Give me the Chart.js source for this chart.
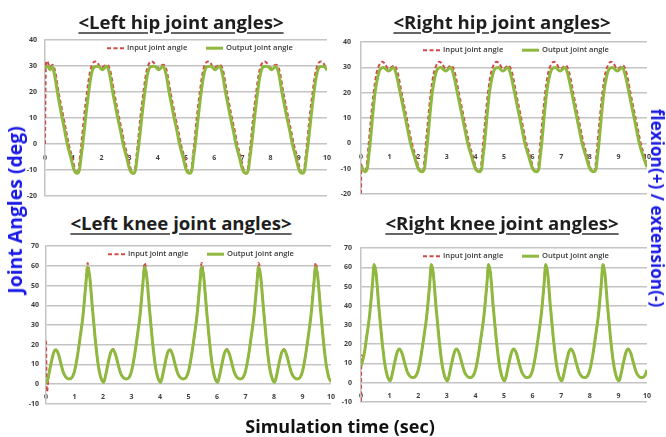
<!DOCTYPE html>
<html lang="en">
<head>
<meta charset="UTF-8" />
<title>Joint angles</title>
<script src="https://cdn.jsdelivr.net/npm/chart.js"></script>
<style>
  body { margin: 0; background: #fff; }
  #wrap { position: relative; width: 666px; height: 437px; overflow: hidden; font-family: 'Open Sans', sans-serif; }
  canvas { position: absolute; }
  .title { position: absolute; font-weight: 700; font-size: 18.6px; line-height: 20px; color: #1e1e1e; white-space: nowrap;
           transform: translateX(-50%); text-decoration: underline; text-decoration-thickness: 1.5px; text-underline-offset: 3px; text-decoration-color: #666; z-index: 2; }
  .axis { position: absolute; font-weight: 700; line-height: 20px; white-space: nowrap; z-index: 2; }
</style>
</head>
<body>
<div id="wrap">
  <div class="title" style="left:181px; top:12px;">&lt;Left hip joint angles&gt;</div>
  <div class="title" style="left:502px; top:12px;">&lt;Right hip joint angles&gt;</div>
  <div class="title" style="left:181px; top:213px;">&lt;Left knee joint angles&gt;</div>
  <div class="title" style="left:502px; top:213px;">&lt;Right knee joint angles&gt;</div>

  <canvas id="lhip" width="333" height="180" style="left:0; top:28px;"></canvas>
  <canvas id="rhip" width="333" height="180" style="left:333px; top:28px;"></canvas>
  <canvas id="lknee" width="336" height="180" style="left:0; top:235px;"></canvas>
  <canvas id="rknee" width="333" height="180" style="left:333px; top:235px;"></canvas>

  <div class="axis" style="left:15px; top:210px; font-size:19.4px; color:#1a1ae6; transform:translate(-50%,-50%) rotate(-90deg);">Joint Angles (deg)</div>
  <div class="axis" style="left:657px; top:208px; font-size:17.2px; color:#1a1ae6; transform:translate(-50%,-50%) rotate(90deg);">flexion(+) / extension(-)</div>
  <div class="axis" style="left:340px; top:426px; font-size:18px; color:#111; transform:translate(-50%,-50%);">Simulation time (sec)</div>
</div>

<script>
  // ---- datos (tiempo en s, angulo en grados) ----
  const xTicks = [0, 10];          // rango del eje de tiempo
  const hipRange = [-20, 40];
  const kneeRange = [-10, 70];

  const lHipOutT = [0, 0.1, 0.18, 0.26, 0.35, 0.44, 0.52, 0.61, 0.70, 0.79, 0.91, 1.03, 1.14, 1.22, 1.28, 1.34, 1.44, 1.55, 1.63, 1.70, 1.77,
    1.88, 2.04, 2.19, 2.30, 2.40, 2.49, 2.58, 2.68, 2.77, 2.89, 3.01, 3.13, 3.21, 3.27, 3.33, 3.43, 3.54, 3.62, 3.69, 3.76,
    3.88, 4.04, 4.19, 4.30, 4.40, 4.49, 4.58, 4.68, 4.77, 4.89, 5.01, 5.13, 5.21, 5.27, 5.33, 5.43, 5.54, 5.62, 5.69, 5.76,
    5.88, 6.04, 6.19, 6.30, 6.40, 6.49, 6.58, 6.68, 6.77, 6.89, 7.01, 7.13, 7.21, 7.27, 7.33, 7.43, 7.54, 7.62, 7.69, 7.76,
    7.88, 8.04, 8.19, 8.30, 8.40, 8.49, 8.58, 8.68, 8.77, 8.89, 9.01, 9.13, 9.21, 9.27, 9.33, 9.43, 9.54, 9.62, 9.69, 9.76,
    9.88, 10.0];
  const lHipOutV = [29.3, 30, 28.6, 29.8, 26, 20, 15, 10, 5, 0, -5, -10, -11.3, -10, -5, 0, 10, 20, 26, 29, 29.8,
    30, 28.6, 30, 26.5, 20, 15, 10, 5, 0, -5, -10, -11.3, -10, -5, 0, 10, 20, 26, 29, 29.8,
    30, 28.6, 30, 26.5, 20, 15, 10, 5, 0, -5, -10, -11.3, -10, -5, 0, 10, 20, 26, 29, 29.8,
    30, 28.6, 30, 26.5, 20, 15, 10, 5, 0, -5, -10, -11.3, -10, -5, 0, 10, 20, 26, 29, 29.8,
    30, 28.6, 30, 26.5, 20, 15, 10, 5, 0, -5, -10, -11.3, -10, -5, 0, 10, 20, 26, 29, 29.8,
    30, 28.4];

  const lHipInT = [0, 0.03, 0.06, 0.1, 0.17, 0.27, 0.37, 0.48, 0.57, 0.66, 0.75, 0.84, 0.96, 1.07, 1.15, 1.19, 1.24, 1.29, 1.38, 1.49, 1.59, 1.69,
    1.79, 1.87, 1.97, 2.2, 2.31, 2.45, 2.54, 2.63, 2.73, 2.82, 2.94, 3.05, 3.14, 3.19, 3.24, 3.29, 3.38, 3.49, 3.59, 3.69,
    3.79, 3.87, 3.97, 4.2, 4.31, 4.45, 4.54, 4.63, 4.73, 4.82, 4.94, 5.05, 5.14, 5.19, 5.24, 5.29, 5.38, 5.49, 5.59, 5.69,
    5.79, 5.87, 5.97, 6.2, 6.31, 6.45, 6.54, 6.63, 6.73, 6.82, 6.94, 7.05, 7.14, 7.19, 7.24, 7.29, 7.38, 7.49, 7.59, 7.69,
    7.79, 7.87, 7.97, 8.2, 8.31, 8.45, 8.54, 8.63, 8.73, 8.82, 8.94, 9.05, 9.14, 9.19, 9.24, 9.29, 9.38, 9.49, 9.59, 9.69,
    9.79, 9.87, 9.97, 10.0];
  const lHipInV = [0, 30, 32, 31.5, 29.5, 30.5, 27.5, 20, 15, 10, 5, 0, -5, -10, -11.5, -10, -5, 0, 10, 20, 27.5, 31,
    31.8, 31.2, 29.4, 30.5, 28.5, 20, 15, 10, 5, 0, -5, -10, -11.5, -10, -5, 0, 10, 20, 27.5, 31,
    31.8, 31.2, 29.4, 30.5, 28.5, 20, 15, 10, 5, 0, -5, -10, -11.5, -10, -5, 0, 10, 20, 27.5, 31,
    31.8, 31.2, 29.4, 30.5, 28.5, 20, 15, 10, 5, 0, -5, -10, -11.5, -10, -5, 0, 10, 20, 27.5, 31,
    31.8, 31.2, 29.4, 30.5, 28.5, 20, 15, 10, 5, 0, -5, -10, -11.5, -10, -5, 0, 10, 20, 27.5, 31,
    31.8, 31.2, 29.4, 29.6];

  const rHipOutT = [0, 0.07,
    0.14, 0.22, 0.27, 0.32, 0.40, 0.49, 0.58, 0.67, 0.79, 0.96, 1.14, 1.25, 1.37, 1.46, 1.55, 1.64, 1.73, 1.86, 2.0,
    2.14, 2.22, 2.27, 2.32, 2.40, 2.49, 2.58, 2.67, 2.79, 2.96, 3.14, 3.25, 3.37, 3.46, 3.55, 3.64, 3.73, 3.86, 4.0,
    4.14, 4.22, 4.27, 4.32, 4.40, 4.49, 4.58, 4.67, 4.79, 4.96, 5.14, 5.25, 5.37, 5.46, 5.55, 5.64, 5.73, 5.86, 6.0,
    6.14, 6.22, 6.27, 6.32, 6.40, 6.49, 6.58, 6.67, 6.79, 6.96, 7.14, 7.25, 7.37, 7.46, 7.55, 7.64, 7.73, 7.86, 8.0,
    8.14, 8.22, 8.27, 8.32, 8.40, 8.49, 8.58, 8.67, 8.79, 8.96, 9.14, 9.25, 9.37, 9.46, 9.55, 9.64, 9.73, 9.86, 10.0];
  const rHipOutV = [-8.8, -10.6,
    -11.3, -10, -5, 0, 10, 20, 26, 29.3, 30, 28.6, 30, 26.5, 20, 15, 10, 5, 0, -5, -10,
    -11.3, -10, -5, 0, 10, 20, 26, 29.3, 30, 28.6, 30, 26.5, 20, 15, 10, 5, 0, -5, -10,
    -11.3, -10, -5, 0, 10, 20, 26, 29.3, 30, 28.6, 30, 26.5, 20, 15, 10, 5, 0, -5, -10,
    -11.3, -10, -5, 0, 10, 20, 26, 29.3, 30, 28.6, 30, 26.5, 20, 15, 10, 5, 0, -5, -10,
    -11.3, -10, -5, 0, 10, 20, 26, 29.3, 30, 28.6, 30, 26.5, 20, 15, 10, 5, 0, -5, -9.5];

  const rHipInT = [0, 0.01, 0.06,
    0.13, 0.19, 0.23, 0.27, 0.35, 0.44, 0.54, 0.64, 0.74, 0.83, 0.96, 1.16, 1.28, 1.42, 1.51, 1.60, 1.69, 1.78, 1.91, 2.03,
    2.13, 2.19, 2.23, 2.27, 2.35, 2.44, 2.54, 2.64, 2.74, 2.83, 2.96, 3.16, 3.28, 3.42, 3.51, 3.60, 3.69, 3.78, 3.91, 4.03,
    4.13, 4.19, 4.23, 4.27, 4.35, 4.44, 4.54, 4.64, 4.74, 4.83, 4.96, 5.16, 5.28, 5.42, 5.51, 5.60, 5.69, 5.78, 5.91, 6.03,
    6.13, 6.19, 6.23, 6.27, 6.35, 6.44, 6.54, 6.64, 6.74, 6.83, 6.96, 7.16, 7.28, 7.42, 7.51, 7.60, 7.69, 7.78, 7.91, 8.03,
    8.13, 8.19, 8.23, 8.27, 8.35, 8.44, 8.54, 8.64, 8.74, 8.83, 8.96, 9.16, 9.28, 9.42, 9.51, 9.60, 9.69, 9.78, 9.91, 10.0];
  const rHipInV = [-20, -8, -10,
    -10.8, -10, -5, 0, 10, 20, 27.5, 31, 32.3, 31.6, 29.4, 30.8, 28, 20, 15, 10, 5, 0, -5, -10,
    -11.3, -10, -5, 0, 10, 20, 27.5, 31, 32.3, 31.6, 29.4, 30.8, 28, 20, 15, 10, 5, 0, -5, -10,
    -11.3, -10, -5, 0, 10, 20, 27.5, 31, 32.3, 31.6, 29.4, 30.8, 28, 20, 15, 10, 5, 0, -5, -10,
    -11.3, -10, -5, 0, 10, 20, 27.5, 31, 32.3, 31.6, 29.4, 30.8, 28, 20, 15, 10, 5, 0, -5, -10,
    -11.3, -10, -5, 0, 10, 20, 27.5, 31, 32.3, 31.6, 29.4, 30.8, 28, 20, 15, 10, 5, 0, -5, -9];

  const lKneeT = [0, 0.03,
    0.1, 0.17, 0.27, 0.35, 0.44, 0.53, 0.62, 0.72, 0.82, 0.92, 1.0, 1.1, 1.2, 1.3, 1.4, 1.46, 1.53, 1.62, 1.72, 1.82, 1.92, 2.02,
    2.1, 2.17, 2.27, 2.35, 2.44, 2.53, 2.62, 2.72, 2.82, 2.92, 3.0, 3.1, 3.2, 3.3, 3.4, 3.46, 3.53, 3.62, 3.72, 3.82, 3.92, 4.02,
    4.1, 4.17, 4.27, 4.35, 4.44, 4.53, 4.62, 4.72, 4.82, 4.92, 5.0, 5.1, 5.2, 5.3, 5.4, 5.46, 5.53, 5.62, 5.72, 5.82, 5.92, 6.02,
    6.1, 6.17, 6.27, 6.35, 6.44, 6.53, 6.62, 6.72, 6.82, 6.92, 7.0, 7.1, 7.2, 7.3, 7.4, 7.46, 7.53, 7.62, 7.72, 7.82, 7.92, 8.02,
    8.1, 8.17, 8.27, 8.35, 8.44, 8.53, 8.62, 8.72, 8.82, 8.92, 9.0, 9.1, 9.2, 9.3, 9.4, 9.46, 9.53, 9.62, 9.72, 9.82, 9.92, 10.0];
  const lKneeOut = [1.5, 0.9,
    5, 10, 16, 17.5, 15, 10, 5.5, 3.2, 2.6, 3.5, 6.5, 14, 24, 35, 51, 59.5, 55, 40, 24, 11, 3.5, 0.9,
    5, 10, 16, 17.5, 15, 10, 5.5, 3.2, 2.6, 3.5, 6.5, 14, 24, 35, 51, 59.5, 55, 40, 24, 11, 3.5, 0.9,
    5, 10, 16, 17.5, 15, 10, 5.5, 3.2, 2.6, 3.5, 6.5, 14, 24, 35, 51, 59.5, 55, 40, 24, 11, 3.5, 0.9,
    5, 10, 16, 17.5, 15, 10, 5.5, 3.2, 2.6, 3.5, 6.5, 14, 24, 35, 51, 59.5, 55, 40, 24, 11, 3.5, 0.9,
    5, 10, 16, 17.5, 15, 10, 5.5, 3.2, 2.6, 3.5, 6.5, 14, 24, 35, 51, 59.5, 55, 40, 24, 11, 3.5, 1.2];
  const lKneeIn = [22, -4,
    5, 10, 16, 17.8, 15, 10, 5.5, 3.2, 2.6, 3.5, 6.5, 14, 24, 35.5, 52, 61.5, 55.5, 40.5, 24, 11, 3.5, 0.9,
    5, 10, 16, 17.8, 15, 10, 5.5, 3.2, 2.6, 3.5, 6.5, 14, 24, 35.5, 52, 61.5, 55.5, 40.5, 24, 11, 3.5, 0.9,
    5, 10, 16, 17.8, 15, 10, 5.5, 3.2, 2.6, 3.5, 6.5, 14, 24, 35.5, 52, 61.5, 55.5, 40.5, 24, 11, 3.5, 0.9,
    5, 10, 16, 17.8, 15, 10, 5.5, 3.2, 2.6, 3.5, 6.5, 14, 24, 35.5, 52, 61.5, 55.5, 40.5, 24, 11, 3.5, 0.9,
    5, 10, 16, 17.8, 15, 10, 5.5, 3.2, 2.6, 3.5, 6.5, 14, 24, 35.5, 52, 61.5, 55.5, 40.5, 24, 11, 3.5, 1.2];

  const rKneeT = [0, 0.01,
    0.1, 0.2, 0.3, 0.4, 0.46, 0.53, 0.62, 0.72, 0.82, 0.92, 1.02, 1.1, 1.17, 1.27, 1.34, 1.44, 1.53, 1.62, 1.72, 1.82, 1.92, 2.0,
    2.1, 2.2, 2.3, 2.4, 2.46, 2.53, 2.62, 2.72, 2.82, 2.92, 3.02, 3.1, 3.17, 3.27, 3.34, 3.44, 3.53, 3.62, 3.72, 3.82, 3.92, 4.0,
    4.1, 4.2, 4.3, 4.4, 4.46, 4.53, 4.62, 4.72, 4.82, 4.92, 5.02, 5.1, 5.17, 5.27, 5.34, 5.44, 5.53, 5.62, 5.72, 5.82, 5.92, 6.0,
    6.1, 6.2, 6.3, 6.4, 6.46, 6.53, 6.62, 6.72, 6.82, 6.92, 7.02, 7.1, 7.17, 7.27, 7.34, 7.44, 7.53, 7.62, 7.72, 7.82, 7.92, 8.0,
    8.1, 8.2, 8.3, 8.4, 8.46, 8.53, 8.62, 8.72, 8.82, 8.92, 9.02, 9.1, 9.17, 9.27, 9.34, 9.44, 9.53, 9.62, 9.72, 9.82, 9.92, 10.0];
  const rKneeOut = [8.5, 9,
    14, 24, 35, 51, 61.5, 56.5, 40, 24, 11, 3.5, 0.9, 5, 10, 16, 17.5, 15, 10, 5.5, 3.2, 2.6, 3.5, 6.5,
    14, 24, 35, 51, 61.5, 56.5, 40, 24, 11, 3.5, 0.9, 5, 10, 16, 17.5, 15, 10, 5.5, 3.2, 2.6, 3.5, 6.5,
    14, 24, 35, 51, 61.5, 56.5, 40, 24, 11, 3.5, 0.9, 5, 10, 16, 17.5, 15, 10, 5.5, 3.2, 2.6, 3.5, 6.5,
    14, 24, 35, 51, 61.5, 56.5, 40, 24, 11, 3.5, 0.9, 5, 10, 16, 17.5, 15, 10, 5.5, 3.2, 2.6, 3.5, 6.5,
    14, 24, 35, 51, 61.5, 56.5, 40, 24, 11, 3.5, 0.9, 5, 10, 16, 17.5, 15, 10, 5.5, 3.2, 2.6, 3.5, 6.5];
  const rKneeIn = [-10, 14,
    14, 24, 35, 51, 61.5, 56.5, 40, 24, 11, 3.5, 0.9, 5, 10, 16, 17.5, 15, 10, 5.5, 3.2, 2.6, 3.5, 6.5,
    14, 24, 35, 51, 61.5, 56.5, 40, 24, 11, 3.5, 0.9, 5, 10, 16, 17.5, 15, 10, 5.5, 3.2, 2.6, 3.5, 6.5,
    14, 24, 35, 51, 61.5, 56.5, 40, 24, 11, 3.5, 0.9, 5, 10, 16, 17.5, 15, 10, 5.5, 3.2, 2.6, 3.5, 6.5,
    14, 24, 35, 51, 61.5, 56.5, 40, 24, 11, 3.5, 0.9, 5, 10, 16, 17.5, 15, 10, 5.5, 3.2, 2.6, 3.5, 6.5,
    14, 24, 35, 51, 61.5, 56.5, 40, 24, 11, 3.5, 0.9, 5, 10, 16, 17.5, 15, 10, 5.5, 3.2, 2.6, 3.5, 6.5];

  const RED = '#d04a48';
  const GREEN = '#8fb83f';
  const GRID = '#c4c4c4';
  const TICK_FONT = { family: "'Open Sans', sans-serif", size: 7, weight: 'bold' };

  // leyenda dibujada dentro del area del grafico
  const inlineLegend = {
    id: 'inlineLegend',
    afterDraw(chart) {
      const { ctx, chartArea } = chart;
      const y = chartArea.top + 8;
      const items = [{ ds: chart.data.datasets[1], dx: 62 }, { ds: chart.data.datasets[0], dx: 161 }];
      ctx.save();
      ctx.font = "600 7.6px 'Open Sans', sans-serif";
      ctx.textBaseline = 'middle';
      items.forEach(it => {
        const x = chartArea.left + it.dx;
        ctx.beginPath();
        ctx.setLineDash(it.ds.borderDash || []);
        ctx.lineWidth = it.ds.borderWidth;
        ctx.strokeStyle = it.ds.borderColor;
        ctx.moveTo(x, y);
        ctx.lineTo(x + 17, y);
        ctx.stroke();
        ctx.setLineDash([]);
        ctx.fillStyle = '#3a3a3a';
        ctx.fillText(it.ds.label, x + 20, y);
      });
      ctx.restore();
    }
  };

  function pts(t, v) {
    return t.map((x, i) => ({ x: x, y: v[i] }));
  }

  function crearGrafico(id, inT, inV, outT, outV, range, pad, yWidth, yPad, xPad) {
    return new Chart(document.getElementById(id), {
      type: 'line',
      data: {
        datasets: [
          { label: 'Output joint angle', data: pts(outT, outV), borderColor: GREEN, borderWidth: 3,
            pointRadius: 0, cubicInterpolationMode: 'monotone', fill: false },
          { label: 'Input joint angle', data: pts(inT, inV), borderColor: RED, borderWidth: 2, borderDash: [4, 2.5],
            pointRadius: 0, cubicInterpolationMode: 'monotone', fill: false }
        ]
      },
      options: {
        responsive: false,
        animation: false,
        layout: { padding: pad },
        plugins: { legend: { display: false }, tooltip: { enabled: false } },
        scales: {
          x: {
            type: 'linear', min: xTicks[0], max: xTicks[1], position: { y: 0 },
            grid: { display: false }, border: { display: false },
            ticks: { stepSize: 1, padding: xPad, autoSkip: false, font: TICK_FONT, color: '#404040', maxRotation: 0 }
          },
          y: {
            min: range[0], max: range[1],
            grid: { color: GRID, lineWidth: 1.5, drawTicks: false },
            border: { color: GRID, width: 1.5 },
            ticks: { stepSize: 10, padding: yPad, font: TICK_FONT, color: '#404040' },
            afterFit: s => { s.width = yWidth; }
          }
        }
      },
      plugins: [inlineLegend]
    });
  }

  crearGrafico('lhip', lHipInT, lHipInV, lHipOutT, lHipOutV, hipRange, { left: 0, top: 8, right: 1, bottom: 10 }, 45, 8, 2);
  crearGrafico('rhip', rHipInT, rHipInV, rHipOutT, rHipOutV, hipRange, { left: 0, top: 7, right: 19, bottom: 10 }, 28, 10, 2);
  crearGrafico('lknee', lKneeT, lKneeIn, lKneeT, lKneeOut, kneeRange, { left: 0, top: 8, right: 1, bottom: 8 }, 46, 7, 1);
  crearGrafico('rknee', rKneeT, rKneeIn, rKneeT, rKneeOut, kneeRange, { left: 0, top: 8, right: 19, bottom: 9 }, 28, 9, 1);
</script>
</body>
</html>
